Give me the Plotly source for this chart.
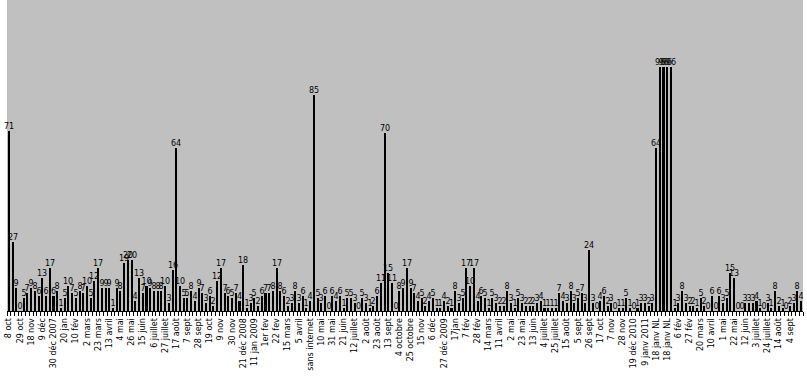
import plotly.graph_objects as go

values = [71, 27, 9, 0, 5, 7, 9, 8, 6, 13, 6, 17, 6, 8, 1, 5, 10, 7, 5, 8,
          7, 10, 5, 12, 17, 9, 9, 9, 1, 9, 8, 19, 20, 20, 4, 13, 7, 10, 9, 8,
          8, 8, 10, 3, 16, 64, 10, 5, 5, 8, 4, 9, 7, 3, 6, 2, 12, 17, 7, 6,
          5, 7, 4, 18, 1, 3, 5, 2, 6, 7, 7, 8, 17, 8, 6, 2, 3, 8, 3, 6,
          1, 4, 85, 5, 3, 6, 0, 6, 4, 6, 1, 5, 5, 3, 0, 5, 3, 1, 2, 6,
          11, 70, 15, 11, 0, 8, 9, 17, 9, 7, 4, 5, 2, 4, 5, 1, 1, 4, 2, 1,
          8, 3, 5, 17, 10, 17, 4, 6, 5, 1, 5, 3, 2, 2, 8, 3, 1, 5, 3, 2,
          2, 2, 3, 4, 1, 1, 1, 1, 7, 4, 3, 8, 3, 5, 7, 3, 24, 3, 0, 4,
          6, 2, 3, 0, 1, 1, 5, 1, 0, 1, 3, 3, 2, 3, 64, 96, 96, 96, 96, 1,
          3, 8, 3, 2, 2, 1, 5, 2, 0, 6, 0, 6, 3, 5, 15, 13, 0, 0, 3, 3,
          3, 4, 1, 0, 3, 1, 8, 2, 1, 0, 2, 3, 8, 4]

tick_labels = ["8 oct", "29 oct", "18 nov", "9 déc", "30 déc 2007", "20 jan", "10 fév",
               "2 mars", "23 mars", "13 avril", "4 mai", "26 mai", "15 juin", "6 juillet",
               "27 juillet", "17 août", "7 sept", "28 sept", "19 oct", "9 nov", "30 nov",
               "21 déc 2008", "11 jan 2009", "1er fev", "22 fev", "15 mars", "5 avril",
               "sans internet", "10 mai", "31 mai", "21 juin", "12 juillet", "2 août",
               "23 août", "13 sept", "4 octobre", "25 octobre", "15 nov", "6 déc",
               "27 déc 2009", "17jan", "7 fév", "28 fév", "14 mars", "11 avril", "2 mai",
               "23 mai", "13 juin", "4 juillet", "25 juillet", "15 août", "5 sept",
               "26 sept", "17 oct", "7 nov", "28 nov", "19 déc 2010", "9 janv 2011",
               "18 janv NL", "18 janv NL", "6 fév", "27 fév", "20 mars", "10 avril",
               "1 mai", "22 mai", "12 juin", "3 juillet", "24 juillet", "14 août", "4 sept"]

label_step = 3

x = list(range(len(values)))
tickvals = list(range(0, len(values), label_step))[:len(tick_labels)]

fig = go.Figure()
fig.add_trace(go.Bar(
    x=x, y=values,
    marker=dict(color="black", line=dict(width=0)),
    width=0.55,
    text=[str(v) for v in values],
    textposition="outside",
    constraintext="none",
    cliponaxis=False,
    textfont=dict(family="DejaVu Sans", size=8, color="black"),
    hoverinfo="x+y",
))

fig.update_layout(
    width=807, height=387,
    margin=dict(l=7, r=4, t=0, b=76, pad=0),
    plot_bgcolor="#C0C0C0",
    paper_bgcolor="white",
    showlegend=False,
    bargap=0,
    font=dict(family="DejaVu Sans", size=8, color="black"),
)
fig.update_xaxes(
    range=[-0.5, len(values) - 0.5],
    tickmode="array", tickvals=tickvals, ticktext=tick_labels,
    tickangle=-90,
    tickfont=dict(family="DejaVu Sans", size=8, color="black"),
    ticks="",
    ticklabelstandoff=3,
    showline=True, linecolor="black", linewidth=1,
    showgrid=False, zeroline=False,
    minor=dict(ticks="outside", ticklen=4, tickcolor="black", tickwidth=1,
               tick0=-0.5, dtick=1, showgrid=False),
)
fig.update_yaxes(
    range=[0, 122.4],
    showticklabels=False, showgrid=False, zeroline=False, showline=False, ticks="",
)

fig.write_html(
    "out.html",
    config={"displayModeBar": False},
    post_script="document.body.style.margin='0px';document.body.style.padding='0px';",
)
